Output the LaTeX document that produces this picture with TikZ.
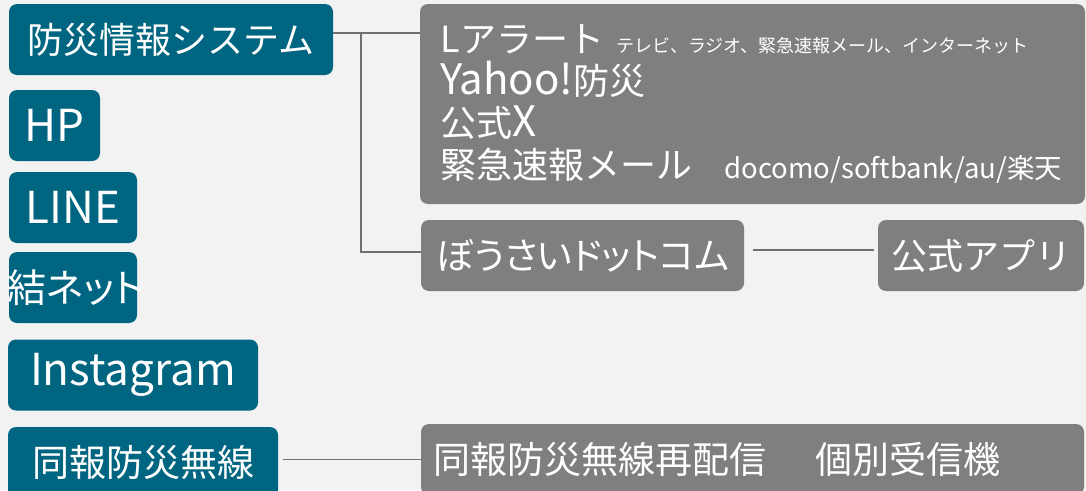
\documentclass[tikz,border=0pt]{standalone}
\usepackage{fontspec}
\setmainfont{Noto Sans CJK JP}
\newfontfamily\propfont[RawFeature=+palt]{Noto Sans CJK JP}
\newcommand\latin[2][44]{{\fontsize{#1}{#1}\selectfont #2}}
\definecolor{bgc}{RGB}{242,242,242}
\definecolor{tealc}{RGB}{0,101,128}
\definecolor{grayc}{RGB}{127,127,127}
\definecolor{linkc}{RGB}{112,112,112}
\tikzset{
	box/.style = {rounded corners = 8pt, text = white, inner sep = 0pt, minimum height = 71pt, font = \fontsize{36}{42}\selectfont},
	tealbox/.style = {box, fill = tealc},
	graybox/.style = {box, fill = grayc},
	link/.style = {draw = linkc, line width = 1.3pt}
}
\begin{document}
\begin{tikzpicture}[x = 1pt, y = -1pt]
		\path[use as bounding box, fill = bgc] (0,0) rectangle (1086,490);
		% left column
		\node[tealbox, minimum width = 324pt] (sys) at (171,39.5) {防災情報システム};
		\node[tealbox, minimum width = 91pt] (hp) at (54.5,125.5) {\latin{HP}};
		\node[tealbox, minimum width = 128pt] (line) at (73,207.5) {\latin{LINE}};
		\node[tealbox, minimum width = 128pt] (yui) at (73,287.5) {\makebox[100pt]{\hspace{6pt}\propfont\fontsize{39}{42}\selectfont 結ネット}};
		\node[tealbox, minimum width = 250pt] (insta) at (133,375) {\latin{Instagram}};
		\node[tealbox, minimum width = 270pt] (douho) at (143,462.5) {\fontsize{37}{42}\selectfont 同報防災無線};
		% right side
		\node[graybox, text width = 624pt, inner xsep = 20.5pt, minimum height = 200pt, align = left] (alert) at (752.5,104) {%
			Lアラート{\fontsize{18}{18}\selectfont\ テレビ、ラジオ、緊急速報メール、インターネット}\\
			\latin[42]{Yahoo!}防災\\
			公式\latin[42]{X}\\
			緊急速報メール{\fontsize{27.5}{27.5}\selectfont\hspace{32pt}docomo/softbank/au/楽天}};
		\node[graybox, minimum width = 323pt] (bousai) at (582.5,255.5) {\propfont\fontsize{37}{42}\selectfont ぼうさいドットコム};
		\node[graybox, minimum width = 206pt] (app) at (981,255.5) {公式アプリ};
		\node[graybox, text width = 639pt, inner xsep = 12pt, align = left] (resend) at (752.5,459.5) {\fontsize{37}{42}\selectfont 同報防災無線再配信\hspace{50pt}個別受信機};
		% connectors
		\coordinate (fork) at (361,33);
		\draw[link] (sys.east |- fork)--(alert.west |- fork);
		\draw[link] (fork) |- ([yshift=3.5pt]bousai.west);
		\draw[link, shorten <= 9pt, shorten >= 4pt] ([yshift=5.5pt]bousai.east)--([yshift=5.5pt]app.west);
		\draw[link, shorten <= 5pt] ([yshift=3pt]douho.east)--([yshift=3pt]douho.east -| resend.west);
\end{tikzpicture}
\end{document}
